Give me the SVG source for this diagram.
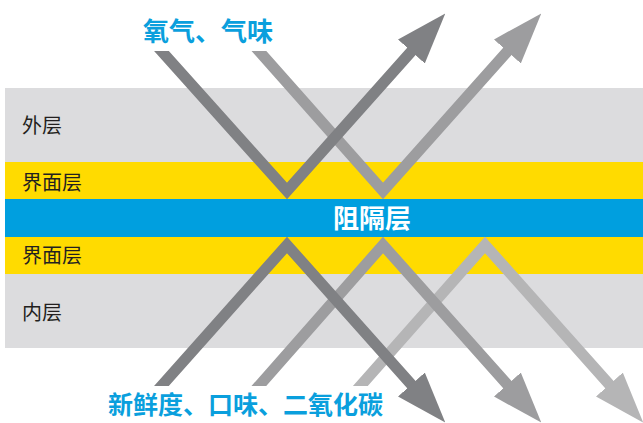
<svg xmlns="http://www.w3.org/2000/svg" width="643" height="423" viewBox="0 0 643 423">
<style>
.lbl{font-family:"Noto Sans CJK SC","Noto Sans",sans-serif;font-size:20px;fill:#231f20;}
.ttl{font-family:"Noto Sans CJK SC","Noto Sans",sans-serif;font-weight:700;fill:#0a9fdd;}
.arr{fill:none;stroke-width:11;stroke-linejoin:miter;stroke-miterlimit:10;}
.a1{stroke:#808184;}
.a2{stroke:#9d9d9f;}
.a3{stroke:#b5b5b6;}
.top{clip-path:url(#clipTop);}
.bot{clip-path:url(#clipBot);}
</style>
<defs>
<marker id="h1" viewBox="0 -18 51 36" markerWidth="51" markerHeight="36" refX="10" refY="0" orient="auto" markerUnits="userSpaceOnUse"><path d="M0,-18 L51,0 L0,18 Z" fill="#808184"/></marker>
<marker id="h2" viewBox="0 -18 51 36" markerWidth="51" markerHeight="36" refX="10" refY="0" orient="auto" markerUnits="userSpaceOnUse"><path d="M0,-18 L51,0 L0,18 Z" fill="#9d9d9f"/></marker>
<marker id="h3" viewBox="0 -18 51 36" markerWidth="51" markerHeight="36" refX="10" refY="0" orient="auto" markerUnits="userSpaceOnUse"><path d="M0,-18 L51,0 L0,18 Z" fill="#b5b5b6"/></marker>
<clipPath id="clipTop" clipPathUnits="userSpaceOnUse"><path d="M0,51 L340,51 L340,0 L643,0 L643,423 L0,423 Z"/></clipPath>
<clipPath id="clipBot" clipPathUnits="userSpaceOnUse"><path d="M0,0 L643,0 L643,423 L385,423 L385,386 L0,386 Z"/></clipPath>
</defs>
<rect width="643" height="423" fill="#ffffff"/>
<g id="outer-layer"><rect x="5" y="88" width="638" height="74" fill="#dcdcde"/><text class="lbl" x="22" y="133">外层</text></g>
<g id="interface-top"><rect x="5" y="162" width="638" height="37" fill="#ffdb00"/><text class="lbl" x="22" y="190">界面层</text></g>
<g id="barrier"><rect x="5" y="199" width="638" height="38" fill="#009fdf"/><text x="372" y="228" text-anchor="middle" font-family="'Noto Sans CJK SC','Noto Sans',sans-serif" font-weight="700" font-size="26" fill="#ffffff">阻隔层</text></g>
<g id="interface-bottom"><rect x="5" y="237" width="638" height="37" fill="#ffdb00"/><text class="lbl" x="22" y="263">界面层</text></g>
<g id="inner-layer"><rect x="5" y="274" width="638" height="74" fill="#dcdcde"/><text class="lbl" x="22" y="320">内层</text></g>
<g id="connectors">
<path class="arr a3 bot" d="M351.5,396 L485,245 L616,392" marker-end="url(#h3)"/>
<path class="arr a2 bot" d="M250,396 L383,245 L514,392" marker-end="url(#h2)"/>
<path class="arr a1 bot" d="M152.5,396 L287,245 L418,392" marker-end="url(#h1)"/>
<path class="arr a2 top" d="M250,41 L383,191 L514,44" marker-end="url(#h2)"/>
<path class="arr a1 top" d="M152.5,41 L287,191 L418,44" marker-end="url(#h1)"/>
</g>
<g id="title-top"><text class="ttl" x="143" y="41" font-size="26">氧气、气味</text></g>
<g id="title-bottom"><text class="ttl" x="108" y="414" font-size="25">新鲜度、口味、二氧化碳</text></g>
</svg>
